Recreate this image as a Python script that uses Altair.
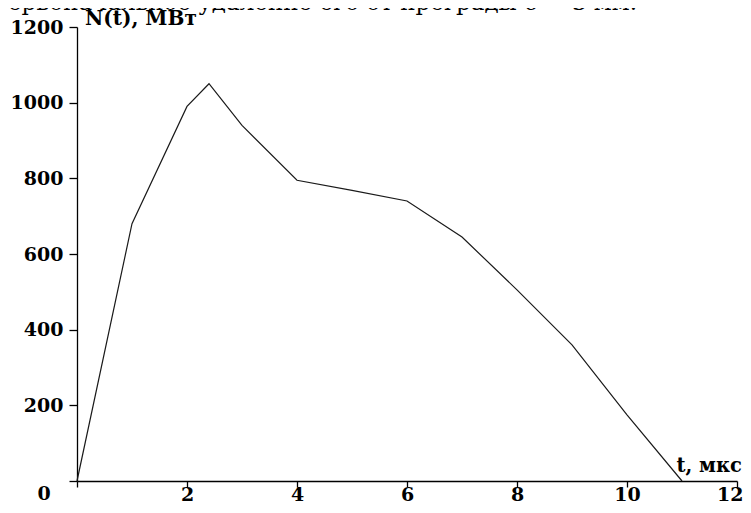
import altair as alt
import pandas as pd

# data
t_values = [0, 1, 2, 2.4, 3, 4, 5, 6, 7, 8, 9, 10, 11]
n_values = [0, 680, 990, 1050, 940, 795, 768, 740, 645, 505, 360, 175, 0]

x_ticks = [0, 2, 4, 6, 8, 10, 12]
y_ticks = [0, 200, 400, 600, 800, 1000, 1200]

y_title = "N(t), МВт"
x_title = "t, мкс"
origin_label = "0"
top_text = "ервоначальное удаление его от преграды δ = 3 мм."

FONT = "DejaVu Serif"

df = pd.DataFrame({"t": t_values, "N": n_values})

x_scale = alt.Scale(domain=[0, 12], nice=False, zero=False)
y_scale = alt.Scale(domain=[0, 1200], nice=False)

x_enc = alt.X(
    "t:Q", scale=x_scale, title=None,
    axis=alt.Axis(values=x_ticks, format="d",
                  labelExpr="datum.value == 0 ? '' : datum.label",
                  grid=False, domainColor="black", domainWidth=1.3,
                  tickColor="black", tickWidth=1.3, tickSize=6, labelPadding=13,
                  labelBaseline="alphabetic",
                  labelFont=FONT, labelFontWeight="bold", labelFontSize=19,
                  labelColor="black", labelFlush=True, labelFlushOffset=6,
                  labelOverlap=False),
)
y_enc = alt.Y(
    "N:Q", scale=y_scale, title=None,
    axis=alt.Axis(values=y_ticks, format="d",
                  labelExpr="datum.value == 0 ? '' : datum.label",
                  grid=False, domainColor="black", domainWidth=1.3,
                  tickColor="black", tickWidth=1.3, tickSize=8, labelPadding=6,
                  labelFont=FONT, labelFontWeight="bold", labelFontSize=19,
                  labelColor="black", labelFlush=False, labelOverlap=False),
)

line = alt.Chart(df).mark_line(color="#1a1a1a", strokeWidth=1.2).encode(x=x_enc, y=y_enc)

ann_y = pd.DataFrame({"t": [0], "N": [1200], "label": [y_title]})
ann_x = pd.DataFrame({"t": [12], "N": [0], "label": [x_title]})
ann_0 = pd.DataFrame({"t": [0], "N": [0], "label": [origin_label]})
ann_top = pd.DataFrame({"t": [0], "N": [1200], "label": [top_text]})

t_y = alt.Chart(ann_y).mark_text(
    align="left", baseline="alphabetic", dx=8, dy=-2,
    font=FONT, fontWeight="bold", fontSize=20, color="black"
).encode(x=alt.X("t:Q", scale=x_scale), y=alt.Y("N:Q", scale=y_scale), text="label:N")

t_x = alt.Chart(ann_x).mark_text(
    align="right", baseline="alphabetic", dx=5, dy=-9,
    font=FONT, fontWeight="bold", fontSize=19.5, color="black"
).encode(x=alt.X("t:Q", scale=x_scale), y=alt.Y("N:Q", scale=y_scale), text="label:N")

t_0 = alt.Chart(ann_0).mark_text(
    align="center", baseline="alphabetic", dx=-33, dy=19,
    font=FONT, fontWeight="bold", fontSize=19, color="black"
).encode(x=alt.X("t:Q", scale=x_scale), y=alt.Y("N:Q", scale=y_scale), text="label:N")

t_top = alt.Chart(ann_top).mark_text(
    align="left", baseline="alphabetic", dx=-69, dy=-17,
    font=FONT, fontSize=23, color="black"
).encode(x=alt.X("t:Q", scale=x_scale), y=alt.Y("N:Q", scale=y_scale), text="label:N")

chart = alt.layer(line, t_y, t_x, t_0, t_top).properties(
    width=660, height=454,
    autosize=alt.AutoSizeParams(type="none"),
    padding={"left": 69, "top": 19, "right": 6, "bottom": 20},
    background="white",
).configure_view(stroke=None)

chart.save("out.html", embed_options={"renderer": "svg", "actions": False})
